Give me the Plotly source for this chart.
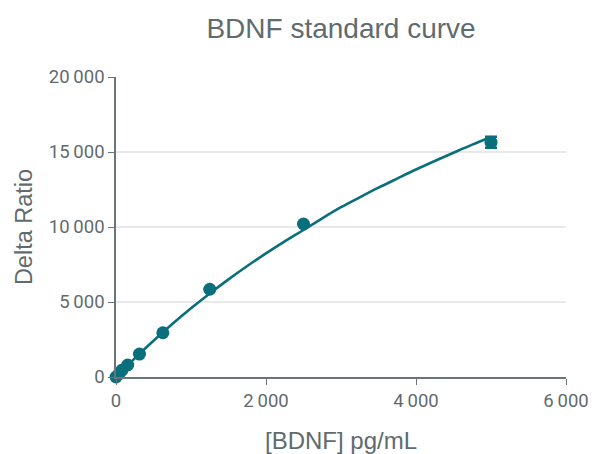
import plotly.graph_objects as go

# Standard points
conc = [0, 39, 78, 156, 312.5, 625, 1250, 2500, 5000]
delta = [0, 200, 450, 800, 1530, 2950, 5850, 10200, 15650]
delta_err = [0, 0, 0, 0, 0, 0, 0, 0, 370]

# Fitted curve
fit_x = [0, 250, 500, 750, 1000, 1250, 1500, 1750, 2000, 2250, 2500,
         2750, 3000, 3250, 3500, 3750, 4000, 4250, 4500, 4750, 5000]
fit_y = [0, 1242, 2417, 3527, 4577, 5570, 6509, 7398, 8240, 9040, 9800,
         10580, 11320, 11980, 12620, 13230, 13830, 14400, 14950, 15490, 16000]

x_ticks = [0, 2000, 4000, 6000]
y_ticks = [0, 5000, 10000, 15000, 20000]
grid_vals = [5000, 10000, 15000]

teal = "#0a6f7c"
grey_text = "#5f6b6e"
axis_col = "#6b7578"

fig = go.Figure()
fig.add_trace(go.Scatter(x=fit_x, y=fit_y, mode="lines",
                         line=dict(color=teal, width=2.6, shape="spline"),
                         cliponaxis=False, hoverinfo="skip", showlegend=False))
fig.add_trace(go.Scatter(x=conc, y=delta, mode="markers",
                         marker=dict(color=teal, size=13),
                         error_y=dict(type="data", array=delta_err, color=teal,
                                      thickness=2.5, width=6),
                         cliponaxis=False, showlegend=False))

for g in grid_vals:
    fig.add_shape(type="line", xref="paper", yref="y", x0=0, x1=1, y0=g, y1=g,
                  line=dict(color="#d4d4d4", width=1.2), layer="below")

fig.update_layout(
    width=592, height=454,
    margin=dict(l=116, r=26, t=77, b=77, autoexpand=False),
    paper_bgcolor="white", plot_bgcolor="white",
    separators=".\u2009",
    title=dict(text="BDNF standard curve", x=0.5, xref="paper", xanchor="center",
               y=0.938, yref="container", yanchor="middle",
               font=dict(family="Liberation Sans, Arial", size=28, color=grey_text)),
    font=dict(family="Roboto, Liberation Sans", color=grey_text),
)
fig.update_xaxes(range=[0, 6000], tickvals=x_ticks, tickformat=",d",
                 showgrid=False, zeroline=False, showline=True, linecolor=axis_col,
                 linewidth=1.5, ticks="outside", ticklen=6, tickcolor=axis_col,
                 automargin=False,
                 tickfont=dict(family="Roboto", size=18.5, color=grey_text),
                 title=dict(text="[BDNF] pg/mL", standoff=22,
                            font=dict(family="Liberation Sans, Arial", size=24, color=grey_text)))
fig.update_yaxes(range=[0, 20000], tickvals=y_ticks, tickformat=",d",
                 showgrid=False, zeroline=False, showline=True, linecolor=axis_col,
                 linewidth=1.5, ticks="outside", ticklen=6, tickcolor=axis_col,
                 automargin=False,
                 tickfont=dict(family="Roboto", size=18.5, color=grey_text),
                 title=dict(text="Delta Ratio", standoff=10,
                            font=dict(family="Liberation Sans, Arial", size=23.5, color=grey_text)))

fig.write_html("out.html", config={"displayModeBar": False},
               post_script="document.body.style.margin='0';document.body.style.overflow='hidden';")
